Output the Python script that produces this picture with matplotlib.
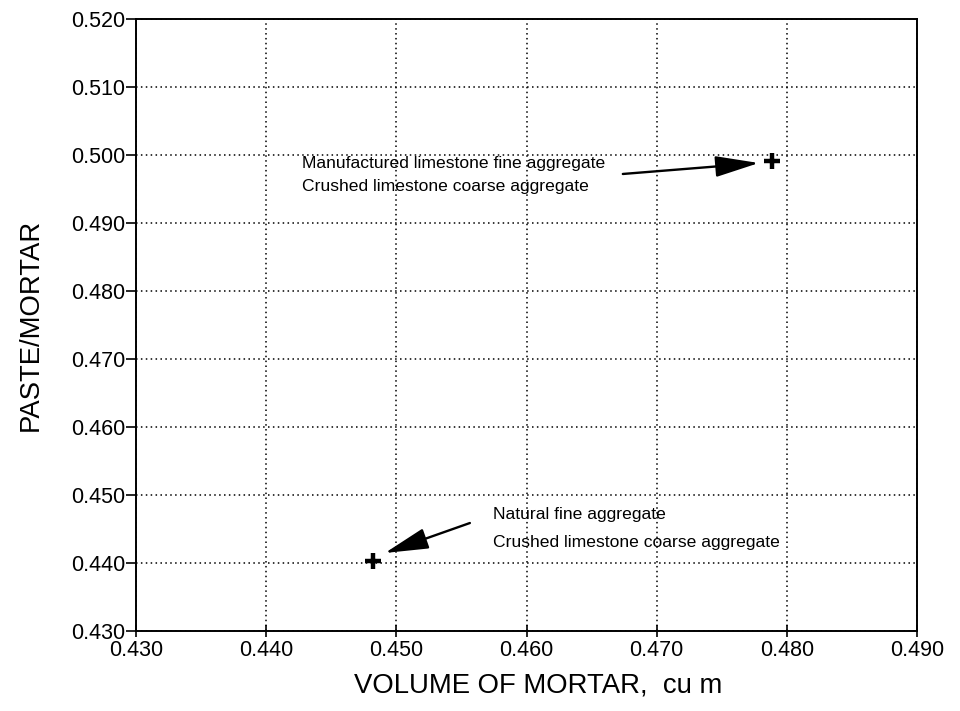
import numpy as np
import matplotlib
matplotlib.use("Agg")
import matplotlib.pyplot as plt

plt.rcParams['font.family'] = ['Liberation Sans', 'DejaVu Sans']

# mortar volume (cu m) vs paste/mortar ratio
volume = [0.47885, 0.4482]
paste_ratio = [0.4991, 0.4403]
line1 = ["Manufactured limestone fine aggregate", "Natural fine aggregate"]
line2 = ["Crushed limestone coarse aggregate", "Crushed limestone coarse aggregate"]

# label placement (left x, baseline of first / second line) and arrow ends
label_x = [0.44275, 0.45742]
label_y1 = [0.49809, 0.44647]
label_y2 = [0.49471, 0.44235]
arrow_tail = [(0.46740, 0.49721), (0.45565, 0.44588)]
arrow_tip = [(0.47785, 0.49882), (0.44912, 0.44147)]

xticks = np.arange(0.430, 0.4901, 0.010)
yticks = np.arange(0.430, 0.5201, 0.010)

fig = plt.figure(figsize=(9.6, 7.11), dpi=100)
ax = fig.add_axes([136/960, 1 - 631/711, (917-136)/960, (631-19)/711])

ax.plot(volume, paste_ratio, ls='none', marker='+', ms=12, mew=3.2, color='black', zorder=5)

for i in range(len(volume)):
    ax.text(label_x[i], label_y1[i], line1[i], fontsize=12.6, va='baseline', ha='left')
    ax.text(label_x[i], label_y2[i], line2[i], fontsize=12.6, va='baseline', ha='left')
    ax.annotate("", xy=arrow_tip[i], xytext=arrow_tail[i],
                arrowprops=dict(arrowstyle='-|>,head_length=2.7,head_width=0.65',
                                mutation_scale=10, color='black', lw=1.7,
                                shrinkA=0, shrinkB=0))

ax.set_xlim(0.430, 0.490)
ax.set_ylim(0.430, 0.520)
ax.set_xticks(xticks)
ax.set_yticks(yticks)
ax.set_xticklabels([f"{v:.3f}" for v in xticks])
ax.set_yticklabels([f"{v:.3f}" for v in yticks])
ax.tick_params(direction='out', length=7, width=1.2, labelsize=15.5, colors='black', pad=1)
ax.tick_params(axis='x', direction='inout', length=9, pad=2)

ax.grid(True, ls=(0, (1, 2.2)), color='black', lw=1.1)
for s in ax.spines.values():
    s.set_linewidth(1.4)

ax.set_xlabel("VOLUME OF MORTAR,  cu m", fontsize=19.8)
ax.set_ylabel("PASTE/MORTAR", fontsize=19.8)
ax.xaxis.set_label_coords(0.515, -0.067)
ax.yaxis.set_label_coords(-0.118, 0.5)

fig.savefig("out.png", dpi=100)
